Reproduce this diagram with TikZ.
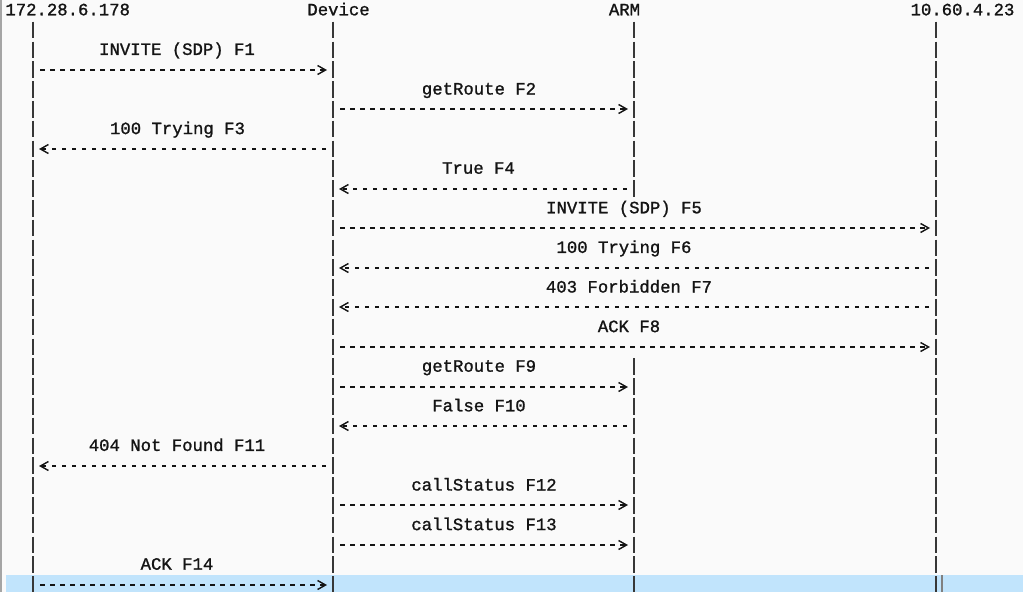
\documentclass[tikz,border=0pt]{standalone}
\usepackage{fontspec}
\setmonofont{Liberation Mono}[BoldFont={Liberation Mono}, BoldFeatures={FakeBold=1.2}]
\usetikzlibrary{arrows.meta}
\definecolor{bg}{RGB}{250,250,250}
\definecolor{ink}{RGB}{20,20,20}
\definecolor{band}{RGB}{193,228,252}
\definecolor{edge}{RGB}{165,165,165}
\begin{document}
\begin{tikzpicture}[x=1pt,y=-1pt,
  lbl/.style={font=\ttfamily\bfseries\fontsize{17.3}{20}\selectfont, text=ink, inner sep=0pt, anchor=base},
  life/.style={draw=ink!85, line width=1.8pt, dash pattern=on 16.6pt off 3.2pt},
  msg/.style={draw=ink, line width=2pt, dash pattern=on 4.5pt off 5.5pt,
    -{Straight Barb[length=8pt,width=9pt,line width=1.4pt]}, shorten <=7pt, shorten >=6pt}]
  % canvas
  \path[fill=bg] (0,0) rectangle (1023,592);
  \useasboundingbox (0,0) rectangle (1023,592);
  \draw[edge, line width=1.5pt] (0.75,0) -- (0.75,592);
  % highlighted last line
  \fill[band] (5.5,575) rectangle (1023,592);
  \draw[gray, line width=1.2pt] (942,575) -- (942,592);
  % lifeline positions
  \coordinate (L1) at (33,0);
  \coordinate (L2) at (333,0);
  \coordinate (L3) at (634,0);
  \coordinate (L4) at (936,0);
  % headers
  \node[lbl] (h1) at (67.7,15.3) {172.28.6.178};
  \node[lbl] (h2) at (338.5,15.3) {Device};
  \node[lbl] (h3) at (624.5,15.3) {ARM};
  \node[lbl] (h4) at (962.5,15.3) {10.60.4.23};
  % lifelines
  \coordinate (L1top) at (33,21.7);  \coordinate (L1bot) at (33,592);
  \coordinate (L2top) at (333,21.7); \coordinate (L2bot) at (333,592);
  \coordinate (L3top) at (634,21.7); \coordinate (L3gap) at (634,196.7);
  \coordinate (L3res) at (634,358.3); \coordinate (L3bot) at (634,592);
  \coordinate (L4top) at (936,21.7); \coordinate (L4bot) at (936,592);
  \draw[life] (L1top) -- (L1bot);
  \draw[life] (L2top) -- (L2bot);
  \draw[life] (L3top) -- (L3gap);
  \draw[life] (L3res) -- (L3bot);
  \draw[life] (L4top) -- (L4bot);
  % message labels
  \foreach \r/\x/\txt in {2/177/{INVITE (SDP) F1}, 4/479/{getRoute F2}, 6/177.5/{100 Trying F3},
      8/478.5/{True F4}, 10/624/{INVITE (SDP) F5}, 12/624/{100 Trying F6},
      14/629/{403 Forbidden F7}, 16/629/{ACK F8}, 18/479/{getRoute F9},
      20/479/{False F10}, 22/177/{404 Not Found F11}, 24/484/{callStatus F12},
      26/484/{callStatus F13}, 28/177/{ACK F14}} {
    \pgfmathsetmacro\yb{15.3+19.8*\r}
    \node[lbl] (m\r) at (\x,\yb) {\txt};
  }
  % messages
  \foreach \r/\s/\t/\n in {3/1/2/1, 5/2/3/2, 7/2/1/3, 9/3/2/4, 11/2/4/5, 13/4/2/6,
      15/4/2/7, 17/2/4/8, 19/2/3/9, 21/3/2/10, 23/2/1/11, 25/2/3/12, 27/2/3/13, 29/1/2/14} {
    \pgfmathsetmacro\yy{round(10.4+19.8*\r)}
    \coordinate (s\n) at (L\s |- 0,\yy);
    \coordinate (t\n) at (L\t |- 0,\yy);
    \draw[msg] (s\n) -- (t\n);
  }
\end{tikzpicture}
\end{document}
